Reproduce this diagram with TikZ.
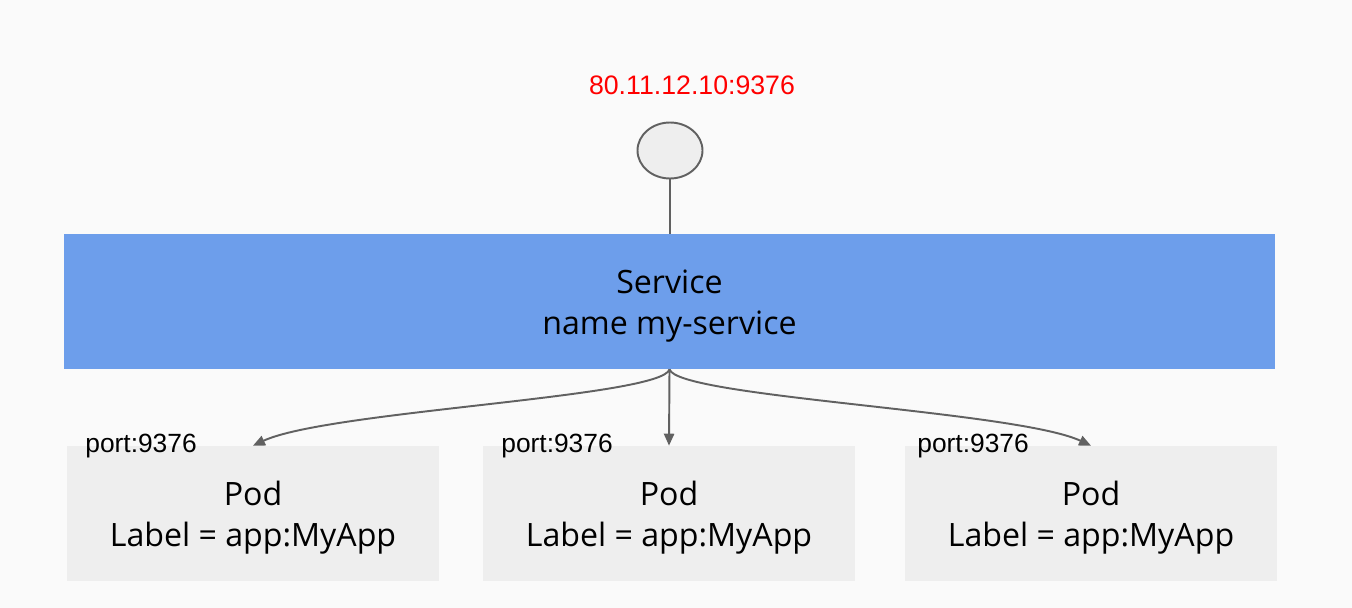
\documentclass[tikz,border=0pt]{standalone}
\usepackage{fontspec}
\setmainfont{Open Sans}
\newfontfamily\portfont{Liberation Sans}
\usetikzlibrary{arrows.meta,shapes.geometric}
\definecolor{bgwhite}{HTML}{FAFAFA}
\definecolor{svcblue}{HTML}{6D9EEB}
\definecolor{podgrey}{HTML}{EEEEEE}
\definecolor{linegrey}{HTML}{616161}
\definecolor{ipred}{HTML}{FF0000}
\newcommand{\toplift}{\rule{0pt}{19pt}}
\tikzset{
	svcbox/.style={shape=rectangle, fill=svcblue, inner sep=0pt, minimum width=24.22cm, minimum height=2.7cm, align=center, font=\fontsize{18.3}{23.5}\selectfont},
	podbox/.style={shape=rectangle, fill=podgrey, inner sep=0pt, minimum width=7.44cm, minimum height=2.7cm, align=center, font=\fontsize{18.3}{23.5}\selectfont},
	portlabel/.style={anchor=base west, inner sep=0pt, font=\portfont\fontsize{15}{17}\selectfont},
	endpoint/.style={shape=ellipse, draw=linegrey, line width=1.1pt, fill=podgrey, inner sep=0pt, minimum width=1.3cm, minimum height=1.12cm},
	flow/.style={draw=linegrey, line width=1.1pt, -{Triangle[length=6.8pt, width=5.8pt]}}
}
\begin{document}
\begin{tikzpicture}[x=0.02cm, y=-0.02cm]
			\useasboundingbox[fill=bgwhite] (0,0) rectangle (1352,608);
			%Service:
			\path
				(692, 94) node[anchor=base, inner sep=0pt, text=ipred, font=\portfont\fontsize{15.2}{18}\selectfont] (ip) {80.11.12.10:9376}
				(670, 150.5) node[endpoint] (lb) {}
				(669.5, 301.5) node[svcbox] (svc) {\toplift Service\\name my-service};
			%Pods:
			\path
				(253, 513.5) node[podbox] (podA) {\toplift Pod\\Label = app:MyApp}
				(669, 513.5) node[podbox] (podB) {\toplift Pod\\Label = app:MyApp}
				(1091, 513.5) node[podbox] (podC) {\toplift Pod\\Label = app:MyApp};
			\path
				(85, 452) node[portlabel] (portA) {port:9376}
				(501, 452) node[portlabel] (portB) {port:9376}
				(917, 452) node[portlabel] (portC) {port:9376};
			%Connectors:
			\draw[draw=linegrey, line width=1.1pt] (lb.south) -- (svc.north -| lb.south);
			\draw[flow] (svc.south) .. controls +(-8,28) and +(75,-35) .. (podA.north);
			\draw[flow] (svc.south) -- (podB.north);
			\draw[flow] (svc.south) .. controls +(8,28) and +(-75,-35) .. (podC.north);
\end{tikzpicture}
\end{document}
